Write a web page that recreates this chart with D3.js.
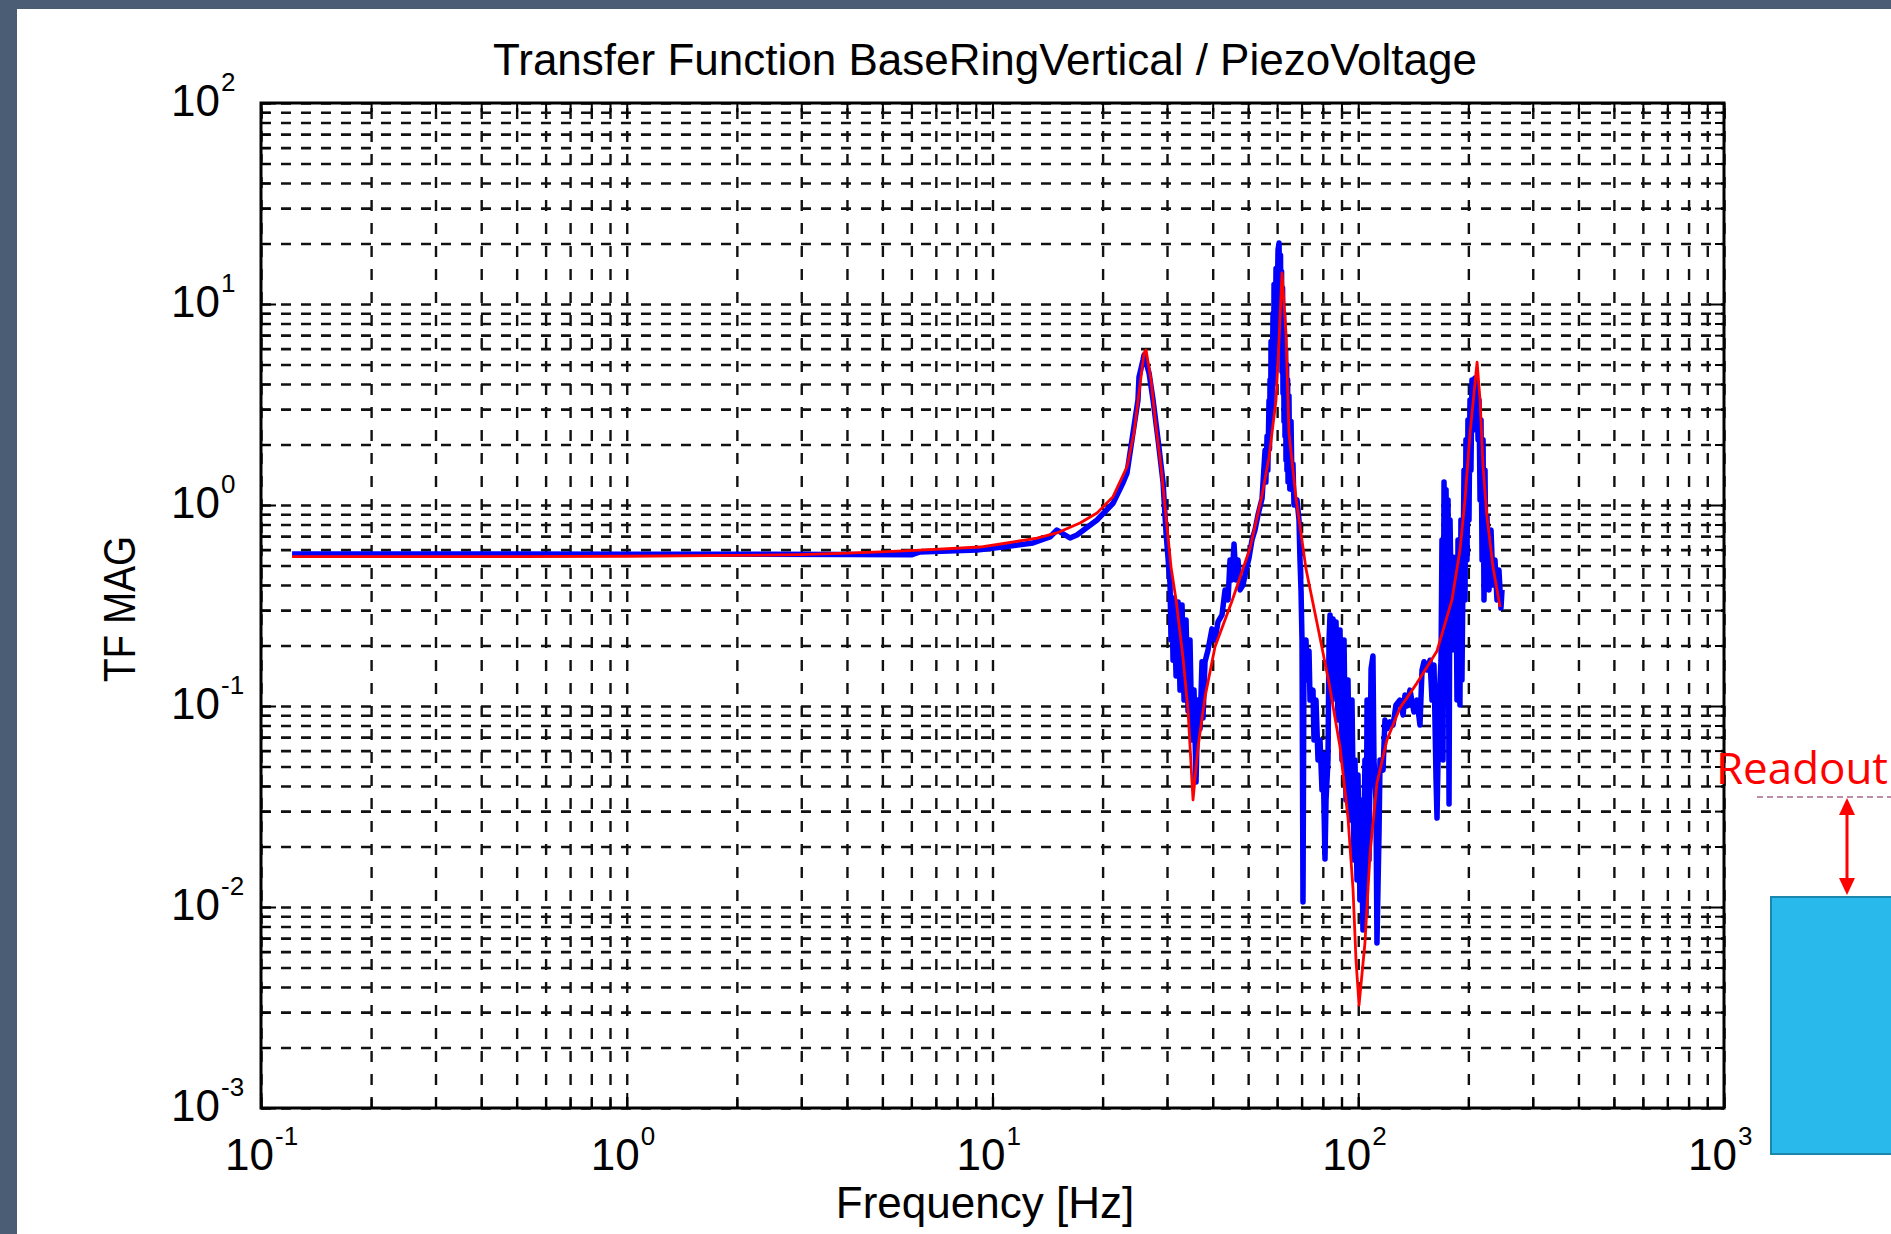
<!DOCTYPE html>
<html>
<head>
<meta charset="utf-8">
<title>Transfer Function BaseRingVertical / PiezoVoltage</title>
<script src="https://cdn.jsdelivr.net/npm/d3@7"></script>
<style>
  body { margin: 0; background: #4b5d75; }
  svg { display: block; }
  text { font-family: "Liberation Sans", Arial, sans-serif; fill: #000; }
</style>
</head>
<body>
<div id="chart"></div>
<script>
// axis decades and the exponent printed on each
var xMajor = [0.1, 1, 10, 100, 1000];
var xExp = ["-1", "0", "1", "2", "3"];
var yMajor = [0.001, 0.01, 0.1, 1, 10, 100];
var yExp = ["-3", "-2", "-1", "0", "1", "2"];

var titleText = "Transfer Function BaseRingVertical / PiezoVoltage";
var xLabelText = "Frequency [Hz]";
var yLabelText = "TF MAG";

// red: fitted model  [Hz, magnitude]
var fitted = [
  [0.1216, 0.554], [0.5, 0.554], [1.0, 0.556], [2.0, 0.561], [3.0, 0.567], [4.0, 0.576], [4.93, 0.585],
  [6.34, 0.597], [9.24, 0.618], [10.96, 0.647], [13.23, 0.685], [15.0, 0.726], [17.35, 0.814], [19.31, 0.912],
  [21.36, 1.10], [23.32, 1.55], [24.37, 2.28], [25.15, 3.61], [25.96, 5.71], [26.29, 5.90], [27.13, 4.19],
  [28.00, 2.44], [28.89, 1.55], [29.82, 0.872], [30.77, 0.491], [31.76, 0.337], [33.19, 0.173], [34.25, 0.0944],
  [35.34, 0.0341], [36.47, 0.0625], [38.11, 0.111], [40.59, 0.197], [45.17, 0.333], [50.6, 0.611], [54.58, 1.12],
  [57.02, 1.73], [59.59, 3.33], [60.73, 6.62], [61.88, 14.27], [63.45, 7.17], [64.65, 2.28], [67.60, 1.08],
  [71.98, 0.480], [78.13, 0.231], [83.20, 0.130], [89.16, 0.0625], [93.76, 0.0277], [96.76, 0.01229],
  [98.59, 0.00545], [100.5, 0.00325], [104.3, 0.00662], [107.7, 0.01836], [112.5, 0.0414], [119.8, 0.0677],
  [130.0, 0.0977], [144.7, 0.130], [164.2, 0.188], [180.4, 0.337], [189.7, 0.597], [195.8, 1.06], [202.1, 2.28],
  [208.6, 4.05], [211.3, 5.14], [215.3, 3.33], [219.4, 1.55], [224.9, 0.872], [233.6, 0.491], [244.1, 0.311]
];

// blue: measured transfer function  [Hz, magnitude]
var measured = [
  [0.1216, 0.570], [0.5, 0.570], [1.0, 0.569], [2.0, 0.569], [4.0, 0.567], [6.0, 0.565], [6.34, 0.584],
  [9.07, 0.597], [10.68, 0.618], [12.90, 0.647], [14.36, 0.693], [15.0, 0.751], [16.29, 0.685], [17.02, 0.709],
  [19.31, 0.842], [21.36, 1.02], [22.74, 1.29], [23.32, 1.44], [24.06, 2.11], [24.99, 3.33], [25.15, 4.33],
  [25.79, 5.26], [25.96, 5.58], [26.79, 4.54], [27.48, 3.33], [28.36, 2.11], [29.27, 1.29], [29.82, 0.726],
  [30.57, 0.409], [30.77, 0.213], [30.96, 0.337], [31.16, 0.169], [31.35, 0.345], [31.76, 0.141], [32.16, 0.329],
  [32.56, 0.120], [32.98, 0.318], [33.40, 0.107], [33.82, 0.268], [34.25, 0.0944], [34.67, 0.213], [35.11, 0.0677],
  [35.56, 0.120], [36.01, 0.0419], [36.47, 0.107], [36.93, 0.0769], [37.39, 0.166], [37.63, 0.0872], [38.11, 0.166],
  [38.84, 0.190], [39.82, 0.242], [40.59, 0.213], [41.36, 0.262], [42.42, 0.284], [43.23, 0.378], [44.05, 0.337],
  [44.61, 0.533], [45.17, 0.424], [45.75, 0.640], [46.32, 0.424], [46.91, 0.533], [47.50, 0.378], [48.41, 0.400],
  [49.33, 0.475], [50.27, 0.545], [51.22, 0.670], [52.20, 0.751], [53.19, 0.892], [54.58, 1.08],
  [55.62, 1.88], [55.90, 1.30], [56.32, 2.20], [56.60, 1.49], [57.02, 3.30], [57.20, 1.90], [57.39, 4.20],
  [57.60, 2.40], [57.75, 6.50], [58.10, 3.00], [58.48, 9.00], [58.70, 4.00], [58.85, 12.5], [59.20, 5.00],
  [59.59, 15.0], [59.90, 7.50], [60.35, 18.57], [60.73, 20.1], [61.11, 9.50], [61.30, 17.5], [61.50, 7.00],
  [61.70, 14.5], [61.88, 4.60], [62.10, 12.0], [62.27, 3.60], [62.50, 9.00], [62.66, 2.60], [62.90, 7.00],
  [63.06, 2.20], [63.30, 5.90], [63.45, 1.67], [63.70, 5.00], [63.85, 1.49], [64.10, 4.20], [64.27, 1.30],
  [64.65, 3.50], [65.00, 1.20], [65.50, 2.60], [65.91, 1.19], [66.30, 1.60], [66.74, 1.00], [68.01, 1.06],
  [68.87, 0.842],
  [69.30, 0.533], [69.74, 0.378], [70.18, 0.213], [70.62, 0.01059], [71.07, 0.190], [71.98, 0.213], [72.43, 0.1347],
  [73.35, 0.188], [73.81, 0.107], [75.21, 0.120], [75.68, 0.0677], [76.64, 0.107], [77.62, 0.0539], [78.61, 0.0677],
  [79.59, 0.0382], [80.10, 0.0577], [81.11, 0.01733], [81.64, 0.0341], [82.66, 0.0539], [83.20, 0.213], [83.72, 0.284],
  [84.78, 0.107], [85.31, 0.271], [86.40, 0.120], [86.94, 0.262], [88.05, 0.0852], [89.16, 0.239], [90.28, 0.0539],
  [91.44, 0.213], [92.58, 0.0341], [93.76, 0.1347], [94.95, 0.0271], [96.14, 0.107], [97.36, 0.01713], [97.97, 0.0539],
  [99.22, 0.01362], [99.84, 0.0454], [101.1, 0.01083], [101.7, 0.0341], [103.0, 0.00768], [104.3, 0.0539],
  [105.0, 0.00923], [105.7, 0.107], [107.0, 0.01713], [108.4, 0.1528], [109.7, 0.1773], [110.4, 0.0539],
  [111.8, 0.0341], [112.5, 0.00662], [114.0, 0.02415], [114.7, 0.0539], [116.9, 0.0480], [118.3, 0.0852],
  [119.8, 0.0769], [122.1, 0.0833], [124.5, 0.0804], [126.8, 0.1012], [130.0, 0.107], [132.6, 0.0902],
  [134.2, 0.1134], [135.9, 0.100], [138.5, 0.120], [142.0, 0.0934], [144.7, 0.107], [147.5, 0.0804],
  [149.4, 0.1510], [151.3, 0.166], [154.2, 0.1510], [157.1, 0.169], [159.1, 0.107], [161.1, 0.160],
  [163.2, 0.0428], [164.2, 0.0277], [166.3, 0.107], [168.4, 0.169],
  [169.4, 0.670], [170.5, 0.0539], [171.6, 1.30], [172.7, 0.213], [173.8, 1.19], [174.8, 0.268], [176.0, 1.06],
  [177.1, 0.0325], [178.2, 0.842], [180.4, 0.190], [181.6, 0.551], [182.7, 0.213], [185.0, 0.533], [186.2, 0.107],
  [187.4, 0.670], [189.7, 0.1012], [190.9, 0.842], [192.1, 0.1347], [194.6, 1.49], [195.8, 0.337], [197.0, 2.11],
  [198.3, 0.533], [199.5, 2.65], [200.8, 0.842], [202.1, 3.33], [203.3, 1.49], [204.6, 4.19], [205.9, 2.36],
  [208.6, 4.28], [209.9, 3.33], [211.3, 3.73], [212.6, 2.11], [213.9, 3.33], [215.3, 1.06], [216.6, 2.65],
  [218.0, 0.533], [219.4, 2.11], [220.7, 0.337], [222.1, 1.49], [223.5, 0.424], [224.9, 0.872], [227.8, 0.378],
  [230.7, 0.751], [233.6, 0.400], [236.5, 0.533], [239.5, 0.337], [242.5, 0.475], [245.6, 0.307], [247.2, 0.378]
];

var margins = { top: 103, right: 167, bottom: 126, left: 261 },
  width = 1891 - margins.left - margins.right,
  height = 1234 - margins.top - margins.bottom;

var svg = d3.select("#chart").append("svg").attr("width", 1891).attr("height", 1234);

// slide frame + white page
svg.append("rect").attr("width", 1891).attr("height", 1234).attr("fill", "#4b5d75");
svg.append("rect").attr("x", 17).attr("y", 9).attr("width", 1874).attr("height", 1225).attr("fill", "#ffffff");

var plot = svg.append("g").attr("transform", "translate(" + margins.left + "," + margins.top + ")");

var x = d3.scaleLog().domain([0.1, 1000]).range([0, width]);
var y = d3.scaleLog().domain([0.001, 100]).range([height, 0]);

function minors(major) {
  var out = [];
  major.slice(0, -1).forEach(function (m) {
    for (var k = 2; k <= 9; k++) out.push(k * m);
  });
  return out;
}
var xMinor = minors(xMajor), yMinor = minors(yMajor);
var xAll = xMajor.concat(xMinor), yAll = yMajor.concat(yMinor);

// dashed grid at every decade and sub-decade
plot.append("g").attr("transform", "translate(0," + height + ")")
  .call(d3.axisBottom(x).tickValues(xAll).tickSize(-height).tickFormat(""))
  .call(function (g) { g.select(".domain").remove(); })
  .selectAll("line").attr("stroke", "#111").attr("stroke-width", 2.4).attr("stroke-dasharray", "11,12");

plot.append("g")
  .call(d3.axisLeft(y).tickValues(yAll).tickSize(-width).tickFormat(""))
  .call(function (g) { g.select(".domain").remove(); })
  .selectAll("line").attr("stroke", "#111").attr("stroke-width", 2.6).attr("stroke-dasharray", "10,10");

var line = d3.line().x(function (d) { return x(d[0]); }).y(function (d) { return y(d[1]); });

plot.append("path").datum(measured)
  .attr("fill", "none").attr("stroke", "#0000ff").attr("stroke-width", 5.5).attr("stroke-linejoin", "round")
  .attr("d", line);
plot.append("path").datum(fitted)
  .attr("fill", "none").attr("stroke", "#ff0000").attr("stroke-width", 2.8).attr("stroke-linejoin", "round")
  .attr("d", line);

// inward ticks on all four sides
function inward(axis, transform, values, len) {
  plot.append("g").attr("transform", transform)
    .call(axis.tickValues(values).tickSize(-len).tickFormat(""))
    .call(function (g) { g.select(".domain").remove(); })
    .selectAll("line").attr("stroke", "#000").attr("stroke-width", 2);
}
inward(d3.axisBottom(x), "translate(0," + height + ")", xMinor, 9);
inward(d3.axisBottom(x), "translate(0," + height + ")", xMajor, 15);
inward(d3.axisTop(x), "translate(0,0)", xMinor, 9);
inward(d3.axisTop(x), "translate(0,0)", xMajor, 15);
inward(d3.axisLeft(y), "translate(0,0)", yMinor, 9);
inward(d3.axisLeft(y), "translate(0,0)", yMajor, 15);
inward(d3.axisRight(y), "translate(" + width + ",0)", yMinor, 9);
inward(d3.axisRight(y), "translate(" + width + ",0)", yMajor, 15);

plot.append("rect").attr("width", width).attr("height", height)
  .attr("fill", "none").attr("stroke", "#000").attr("stroke-width", 3);

// 10^n tick labels
var xl = plot.append("g").attr("transform", "translate(0," + height + ")");
xMajor.forEach(function (v, i) {
  var lab = xl.append("g").attr("transform", "translate(" + x(v) + ",0)");
  lab.append("text").attr("x", 13).attr("y", 62).attr("text-anchor", "end")
    .attr("font-size", 44).text("10");
  lab.append("text").attr("x", 14).attr("y", 37).attr("font-size", 26).text(xExp[i]);
});

var yl = plot.append("g");
yMajor.forEach(function (v, i) {
  var lab = yl.append("g").attr("transform", "translate(0," + y(v) + ")");
  lab.append("text").attr("x", -41).attr("y", 13).attr("text-anchor", "end")
    .attr("font-size", 44).text("10");
  lab.append("text").attr("x", -40).attr("y", -12).attr("font-size", 26).text(yExp[i]);
});

// titles
svg.append("text").attr("x", 985).attr("y", 75).attr("text-anchor", "middle")
  .attr("font-size", 44).text(titleText);
svg.append("text").attr("x", 985).attr("y", 1218).attr("text-anchor", "middle")
  .attr("font-size", 44).text(xLabelText);
svg.append("text").attr("transform", "translate(135,609) rotate(-90)").attr("text-anchor", "middle")
  .attr("font-size", 44).attr("textLength", 146).attr("lengthAdjust", "spacingAndGlyphs").text(yLabelText);

// slide annotation at the right edge
svg.append("text").attr("x", 1716).attr("y", 784)
  .style("fill", "#ff0000").style("font-family", "'Open Sans', sans-serif")
  .attr("font-size", 44).attr("textLength", 172).attr("lengthAdjust", "spacingAndGlyphs").text("Readout");
svg.append("line").attr("x1", 1757).attr("x2", 1891).attr("y1", 797).attr("y2", 797)
  .attr("stroke", "#a8688a").attr("stroke-width", 1.5).attr("stroke-dasharray", "6,4");
svg.append("line").attr("x1", 1847).attr("x2", 1847).attr("y1", 810).attr("y2", 882)
  .attr("stroke", "#ff0000").attr("stroke-width", 3);
svg.append("path").attr("d", "M1847,798 L1839,815 L1855,815 Z").attr("fill", "#ff0000");
svg.append("path").attr("d", "M1847,895 L1839,878 L1855,878 Z").attr("fill", "#ff0000");
svg.append("rect").attr("x", 1771).attr("y", 897).attr("width", 140).attr("height", 257)
  .attr("fill", "#29b9eb").attr("stroke", "#1b87ad").attr("stroke-width", 2);
</script>
</body>
</html>
